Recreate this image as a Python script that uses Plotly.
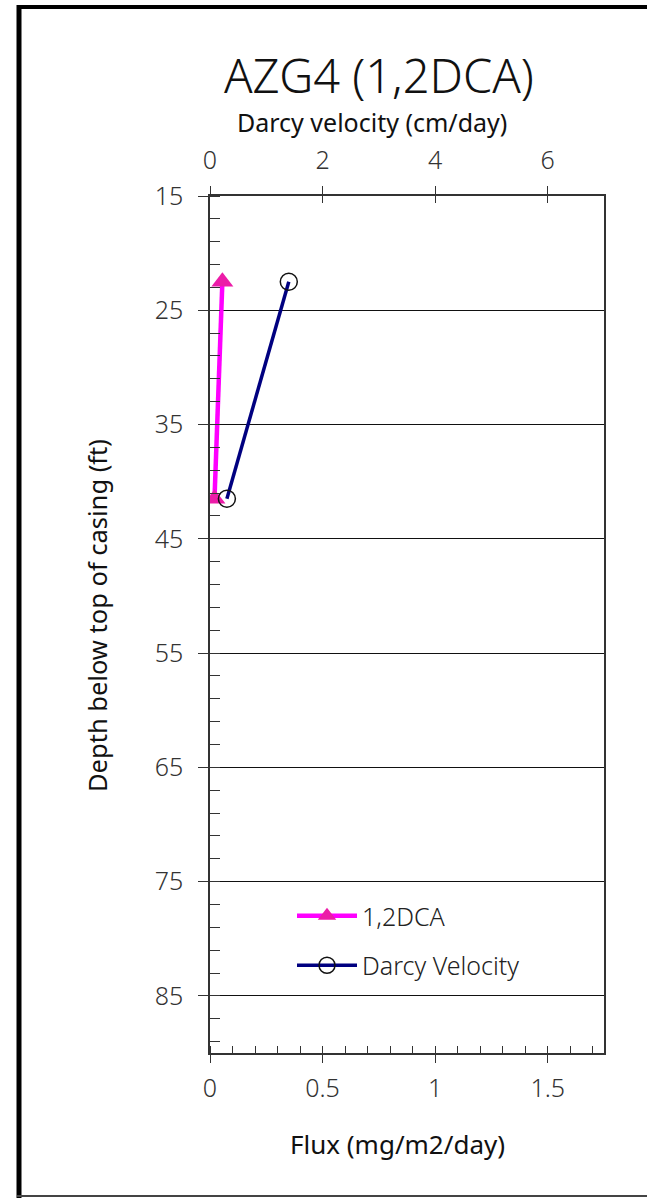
import plotly.graph_objects as go

# Sample depths (ft below top of casing)
depth_ft = [22.5, 41.5]
# 1,2-DCA mass flux (mg/m2/day)
dca_flux = [0.055, 0.02]
# Darcy velocity (cm/day)
darcy_velocity = [1.40, 0.30]

flux_ticks = [0, 0.5, 1, 1.5]
velocity_ticks = [0, 2, 4, 6]
depth_ticks = [15, 25, 35, 45, 55, 65, 75, 85]

W, H = 647, 1198
L, R, T, B = 210, 43, 196, 145
PW, PH = W - L - R, H - T - B


def px(x):
    return (x - L) / PW


def py(y):
    return 1 - (y - T) / PH


FONT = "Noto Sans"
TICK_FONT = dict(family=FONT, size=25, color="#333333", weight=300)
AX_COLOR = "#333333"

fig = go.Figure()

fig.add_trace(go.Scatter(
    x=dca_flux, y=depth_ft, name="1,2DCA", mode="lines+markers",
    line=dict(color="#FF00FF", width=4.5),
    marker=dict(symbol="triangle-up", size=19, color="#EC1CA8"),
    xaxis="x", yaxis="y", legendgroup="a",
))
fig.add_trace(go.Scatter(
    x=darcy_velocity, y=depth_ft, name="Darcy Velocity", mode="lines+markers",
    line=dict(color="#000080", width=3.5),
    marker=dict(symbol="circle-open", size=17, color="#111111", line=dict(width=1.5)),
    xaxis="x2", yaxis="y", legendgroup="b",
))
# empty traces carrying the inner halves of the crossing tick marks
fig.add_trace(go.Scatter(x=[], y=[], xaxis="x3", yaxis="y2", showlegend=False, hoverinfo="skip"))
fig.add_trace(go.Scatter(x=[], y=[], xaxis="x4", yaxis="y2", showlegend=False, hoverinfo="skip"))

fig.update_layout(
    width=W, height=H,
    margin=dict(l=L, r=R, t=T, b=B),
    paper_bgcolor="white", plot_bgcolor="white",
    font=dict(family=FONT, color="#222222"),
    showlegend=True,
    legend=dict(
        x=px(292), y=py(893), xanchor="left", yanchor="top",
        font=dict(family=FONT, size=25, color="#222222", weight=300),
        bgcolor="rgba(0,0,0,0)", tracegroupgap=14, itemwidth=60,
    ),
    xaxis=dict(
        range=[0, 1.75], tickvals=flux_ticks, ticktext=["0", "0.5", "1", "1.5"],
        ticks="outside", ticklen=8, tickwidth=1, tickcolor=AX_COLOR,
        minor=dict(dtick=0.1, tick0=0, ticks="inside", ticklen=7, tickcolor=AX_COLOR, showgrid=False),
        showline=True, linecolor=AX_COLOR, linewidth=1.5, mirror=False,
        showgrid=False, zeroline=False, tickfont=TICK_FONT, ticklabelstandoff=4,
    ),
    xaxis2=dict(
        range=[0, 7], tickvals=velocity_ticks, overlaying="x", side="top",
        ticks="outside", ticklen=8, tickwidth=1, tickcolor=AX_COLOR,
        showline=True, linecolor=AX_COLOR, linewidth=1.5,
        showgrid=False, zeroline=False, tickfont=TICK_FONT, ticklabelstandoff=7,
    ),
    xaxis3=dict(
        range=[0, 1.75], tickvals=flux_ticks, overlaying="x", side="bottom",
        ticks="inside", ticklen=7, tickwidth=1, tickcolor=AX_COLOR,
        showticklabels=False, showline=False, showgrid=False, zeroline=False,
    ),
    xaxis4=dict(
        range=[0, 7], tickvals=velocity_ticks, overlaying="x", side="top",
        ticks="inside", ticklen=7, tickwidth=1, tickcolor=AX_COLOR,
        showticklabels=False, showline=False, showgrid=False, zeroline=False,
    ),
    yaxis=dict(
        range=[90, 15], tickvals=depth_ticks,
        ticks="outside", ticklen=10, tickwidth=1, tickcolor=AX_COLOR,
        minor=dict(dtick=2, tick0=15, ticks="inside", ticklen=10, tickcolor=AX_COLOR, showgrid=False),
        showline=True, linecolor=AX_COLOR, linewidth=1.5, mirror=True,
        showgrid=True, gridcolor="#111111", gridwidth=1,
        zeroline=False, tickfont=TICK_FONT, ticklabelstandoff=10,
    ),
    yaxis2=dict(
        range=[90, 15], tickvals=depth_ticks, overlaying="y", side="left",
        ticks="inside", ticklen=10, tickwidth=1, tickcolor=AX_COLOR,
        showticklabels=False, showline=False, showgrid=False, zeroline=False,
    ),
)

annotations = [
    dict(text="AZG4 (1,2DCA)", x=px(379), y=py(75), size=47, angle=0, weight=300),
    dict(text="Darcy velocity (cm/day)", x=px(372), y=py(122), size=25, angle=0, weight=400),
    dict(text="Flux (mg/m2/day)", x=px(397), y=py(1144), size=26, angle=0, weight=400),
    dict(text="Depth below top of casing (ft)", x=px(97), y=py(615), size=25.5, angle=-90, weight=400),
]
for a in annotations:
    fig.add_annotation(
        text=a["text"], x=a["x"], y=a["y"], xref="paper", yref="paper",
        xanchor="center", yanchor="middle", showarrow=False, textangle=a["angle"],
        font=dict(family=FONT, size=a["size"], color="#111111", weight=a["weight"]),
    )

# outer frame around the figure
fig.add_shape(type="line", xref="paper", yref="paper",
              x0=px(19), x1=px(19), y0=py(5), y1=py(1198), line=dict(color="black", width=5))
fig.add_shape(type="line", xref="paper", yref="paper",
              x0=px(17), x1=px(W), y0=py(7), y1=py(7), line=dict(color="black", width=4))
fig.add_shape(type="line", xref="paper", yref="paper",
              x0=px(17), x1=px(W), y0=py(1196), y1=py(1196), line=dict(color="#444444", width=2))

fig.write_html("out.html")
